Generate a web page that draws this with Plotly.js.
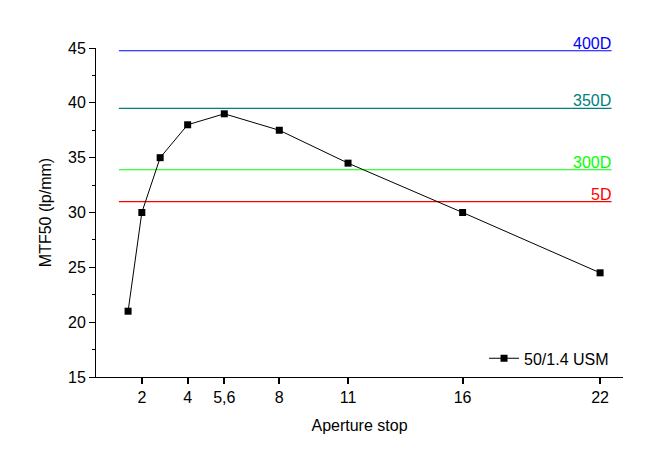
<!DOCTYPE html>
<html>
<head>
<meta charset="utf-8">
<script src="https://cdn.plot.ly/plotly-3.0.1.min.js"></script>
<style>html,body{margin:0;padding:0;background:#fff;}#chart{width:658px;height:469px;}</style>
</head>
<body>
<div id="chart"></div>
<script>
// Data
var apertures = [1.4, 2, 2.8, 4, 5.6, 8, 11, 16, 22];
var mtf50 = [21, 30, 35, 38, 39, 37.5, 34.5, 30, 24.5];
var seriesName = "50/1.4 USM";

var refNames = ["400D", "350D", "300D", "5D"];
var refValues = [44.75, 39.5, 33.9, 31];
var refXStart = 1;
var refXEnd = 22.5;

var xTickVals = [2, 4, 5.6, 8, 11, 16, 22];
var xTickText = ["2", "4", "5,6", "8", "11", "16", "22"];

// Styles
var refColors = ["#0000FF", "#008080", "#00FF00", "#FF0000"];
var font = "Liberation Sans, Arial, sans-serif";

var traces = [];
var annotations = [];
refNames.forEach(function (name, i) {
  traces.push({
    x: [refXStart, refXEnd],
    y: [refValues[i], refValues[i]],
    mode: "lines",
    line: {color: refColors[i], width: 1.2},
    showlegend: false,
    hoverinfo: "skip"
  });
  annotations.push({
    x: refXEnd, y: refValues[i], xref: "x", yref: "y",
    text: name, showarrow: false,
    xanchor: "right", yanchor: "bottom", yshift: -3, xshift: 1,
    font: {family: font, size: 16, color: refColors[i]}
  });
});

traces.push({
  x: apertures,
  y: mtf50,
  name: seriesName,
  mode: "lines+markers",
  line: {color: "#000000", width: 1},
  marker: {symbol: "square", size: 7, color: "#000000"},
  showlegend: true
});

var layout = {
  width: 658, height: 469,
  margin: {l: 96, r: 35, t: 48, b: 92},
  paper_bgcolor: "#ffffff",
  plot_bgcolor: "#ffffff",
  font: {family: font, size: 16, color: "#000000"},
  showlegend: true,
  legend: {
    x: 0.983, xanchor: "right", y: 0.005, yanchor: "bottom",
    bgcolor: "rgba(0,0,0,0)",
    font: {family: font, size: 16, color: "#000000"}
  },
  xaxis: {
    range: [0, 23],
    tickvals: xTickVals, ticktext: xTickText,
    ticks: "outside", ticklen: 6, tickwidth: 2, tickcolor: "#000",
    showline: true, linecolor: "#000", linewidth: 1,
    showgrid: false, zeroline: false,
    tickfont: {family: font, size: 16},
    title: {text: "Aperture stop", font: {family: font, size: 16}, standoff: 14}
  },
  yaxis: {
    range: [15, 45],
    dtick: 5, tick0: 15,
    ticks: "outside", ticklen: 6, tickwidth: 1, tickcolor: "#000",
    minor: {dtick: 2.5, ticks: "outside", ticklen: 3, tickcolor: "#000", showgrid: false},
    showline: true, linecolor: "#000", linewidth: 1,
    showgrid: false, zeroline: false,
    tickfont: {family: font, size: 16},
    title: {text: "MTF50 (lp/mm)", font: {family: font, size: 16}, standoff: 12}
  },
  annotations: annotations
};

Plotly.newPlot("chart", traces, layout, {displayModeBar: false, staticPlot: true});
</script>
</body>
</html>
